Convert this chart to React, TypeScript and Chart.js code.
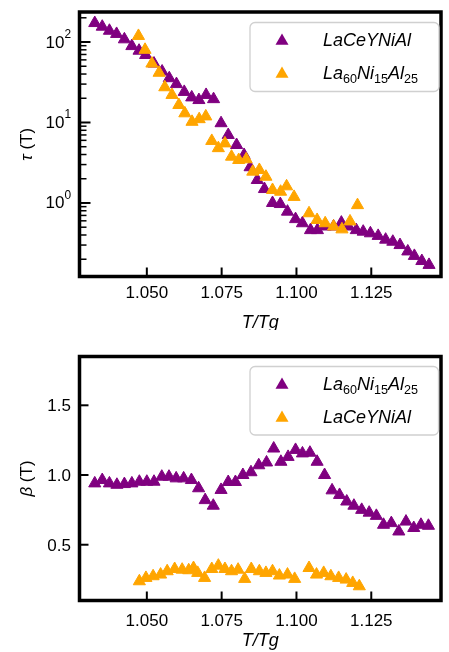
import React, { useEffect, useRef } from "react";
import { Chart, registerables } from "chart.js";

Chart.register(...registerables);

const FONT = "'Liberation Sans', Arial, Helvetica, sans-serif";
const PURPLE = "#800080";
const ORANGE = "#ffa500";

// ---------- top panel: tau(T) ----------
const tauPurpleX = [1.0326, 1.0351, 1.0375, 1.0399, 1.0425, 1.045, 1.0474, 1.0496, 1.0524, 1.0551, 1.0575, 1.0599, 1.0625, 1.065, 1.0674, 1.0698, 1.0723, 1.0748, 1.0772, 1.08, 1.0825, 1.0845, 1.0869, 1.0893, 1.092, 1.0946, 1.097, 1.0997, 1.102, 1.1047, 1.107, 1.1096, 1.1124, 1.115, 1.1174, 1.12, 1.1223, 1.1247, 1.1273, 1.1298, 1.1322, 1.1346, 1.1372, 1.1394, 1.1419, 1.1443];
const tauPurpleY = [172, 155, 138, 126, 108, 89, 78, 69, 54, 43, 35.5, 30, 24, 20.5, 19, 22, 19.5, 9.8, 7.0, 5.25, 3.95, 2.78, 1.93, 1.49, 1.0, 0.97, 0.78, 0.63, 0.56, 0.46, 0.46, 0.51, 0.51, 0.57, 0.51, 0.46, 0.44, 0.42, 0.39, 0.35, 0.33, 0.3, 0.25, 0.22, 0.19, 0.17];
const tauOrangeX = [1.0472, 1.0494, 1.0517, 1.0541, 1.056, 1.0584, 1.0607, 1.0627, 1.0651, 1.0675, 1.0697, 1.0717, 1.0739, 1.0761, 1.0783, 1.0807, 1.0832, 1.0854, 1.0876, 1.0898, 1.092, 1.0947, 1.0967, 1.0992, 1.1042, 1.1069, 1.1096, 1.1124, 1.1152, 1.1179, 1.1204];
const tauOrangeY = [119, 80, 54, 41.5, 27.4, 22, 16.5, 13, 10.2, 11, 11.9, 5.9, 4.8, 5.5, 3.76, 3.42, 3.49, 2.45, 2.57, 2.12, 1.45, 1.38, 1.61, 1.19, 0.745, 0.615, 0.56, 0.51, 0.47, 0.59, 0.94];

// ---------- bottom panel: beta(T) ----------
const betaPurpleX = [1.0326, 1.0351, 1.0375, 1.04, 1.0425, 1.045, 1.0475, 1.05, 1.0524, 1.055, 1.0574, 1.0598, 1.0623, 1.0649, 1.0673, 1.0695, 1.0722, 1.0748, 1.0772, 1.0796, 1.0821, 1.0848, 1.0874, 1.09, 1.0924, 1.0948, 1.0972, 1.0997, 1.102, 1.1045, 1.1069, 1.1094, 1.1119, 1.1144, 1.1168, 1.1192, 1.1218, 1.1243, 1.1267, 1.1291, 1.1317, 1.1342, 1.1366, 1.1392, 1.1416, 1.1441];
const betaPurpleY = [0.94, 0.964, 0.94, 0.93, 0.935, 0.94, 0.952, 0.952, 0.952, 0.988, 0.988, 0.976, 0.976, 0.964, 0.905, 0.82, 0.78, 0.893, 0.95, 0.95, 1.0, 1.02, 1.07, 1.09, 1.19, 1.095, 1.13, 1.18, 1.155, 1.16, 1.095, 1.0, 0.89, 0.857, 0.81, 0.78, 0.75, 0.73, 0.707, 0.643, 0.655, 0.595, 0.666, 0.62, 0.643, 0.636];
const betaOrangeX = [1.0475, 1.0497, 1.0521, 1.0546, 1.0568, 1.0593, 1.0618, 1.064, 1.0656, 1.067, 1.0693, 1.0717, 1.0739, 1.0761, 1.0783, 1.0805, 1.0827, 1.0849, 1.0876, 1.0898, 1.092, 1.0943, 1.097, 1.0994, 1.1042, 1.1067, 1.1091, 1.1115, 1.1141, 1.1166, 1.1188, 1.121];
const betaOrangeY = [0.238, 0.262, 0.274, 0.286, 0.31, 0.326, 0.321, 0.317, 0.333, 0.298, 0.262, 0.326, 0.35, 0.326, 0.31, 0.321, 0.255, 0.326, 0.31, 0.298, 0.31, 0.279, 0.286, 0.255, 0.333, 0.286, 0.298, 0.274, 0.262, 0.25, 0.226, 0.202];

// ---------- ticks, labels ----------
const xTickValues = [1.05, 1.075, 1.1, 1.125];
const xTickLabels = ["1.050", "1.075", "1.100", "1.125"];
const tauTickExponents = [0, 1, 2];
const betaTickValues = [0.5, 1.0, 1.5];
const betaTickLabels = ["0.5", "1.0", "1.5"];
const tauLegendLabels = ["LaCeYNiAl", "La_{60}Ni_{15}Al_{25}"];
const betaLegendLabels = ["La_{60}Ni_{15}Al_{25}", "LaCeYNiAl"];
const xTitleText = "T/Tg";

type Part = { t: string; italic?: boolean; sub?: boolean; sup?: boolean };

function parseMath(s: string): Part[] {
  const parts: Part[] = [];
  const re = /_\{([^}]*)\}|([^_]+)/g;
  let m: RegExpExecArray | null;
  while ((m = re.exec(s))) {
    if (m[1] !== undefined) parts.push({ t: m[1], sub: true });
    else parts.push({ t: m[2], italic: true });
  }
  return parts;
}

function partFont(p: Part, size: number) {
  const s = p.sub || p.sup ? size * 0.7 : size;
  return `${p.italic ? "italic " : ""}${s}px ${FONT}`;
}

function measureParts(ctx: CanvasRenderingContext2D, parts: Part[], size: number) {
  let w = 0;
  for (const p of parts) {
    ctx.font = partFont(p, size);
    w += ctx.measureText(p.t).width;
  }
  return w;
}

function drawParts(ctx: CanvasRenderingContext2D, parts: Part[], x: number, y: number, size: number, align: "left" | "center" | "right") {
  const w = measureParts(ctx, parts, size);
  let cx = align === "center" ? x - w / 2 : align === "right" ? x - w : x;
  ctx.textAlign = "left";
  ctx.textBaseline = "alphabetic";
  for (const p of parts) {
    ctx.font = partFont(p, size);
    const dy = p.sub ? size * 0.22 : p.sup ? -size * 0.58 : 0;
    ctx.fillText(p.t, cx, y + dy);
    cx += ctx.measureText(p.t).width;
  }
}

function tri(ctx: CanvasRenderingContext2D, x: number, y: number, r: number) {
  ctx.beginPath();
  ctx.moveTo(x, y - r);
  ctx.lineTo(x + 0.866 * r, y + 0.5 * r);
  ctx.lineTo(x - 0.866 * r, y + 0.5 * r);
  ctx.closePath();
  ctx.fill();
}

type FrameOpts = {
  id: string;
  log: boolean;
  yTitle: Part[];
  xLabelOffset: number;
  xTitleOffset: number;
  legendBox: { x: number; y: number; w: number; h: number };
  legend: { color: string; label: string }[];
};

function framePlugin(o: FrameOpts) {
  return {
    id: "frame" + o.id,
    afterDatasetsDraw(chart: any) {
      const ctx: CanvasRenderingContext2D = chart.ctx;
      const a = chart.chartArea;
      const xs = chart.scales.x;
      const ys = chart.scales.y;
      ctx.save();
      ctx.fillStyle = "#000";
      ctx.strokeStyle = "#000";
      ctx.lineCap = "butt";

      // x ticks + labels
      xTickValues.forEach((v, i) => {
        const px = xs.getPixelForValue(v);
        ctx.lineWidth = 2;
        ctx.beginPath();
        ctx.moveTo(px, a.bottom);
        ctx.lineTo(px, a.bottom - 9);
        ctx.stroke();
        ctx.font = `17px ${FONT}`;
        ctx.textAlign = "center";
        ctx.textBaseline = "alphabetic";
        ctx.fillText(xTickLabels[i], px, a.bottom + o.xLabelOffset);
      });

      // y ticks + labels
      if (o.log) {
        for (let e = -1; e <= 2; e++) {
          for (let m = 1; m <= 9; m++) {
            const v = m * Math.pow(10, e);
            if (v <= ys.min || v >= ys.max) continue;
            const py = ys.getPixelForValue(v);
            const major = m === 1;
            ctx.lineWidth = major ? 2 : 1.5;
            ctx.beginPath();
            ctx.moveTo(a.left, py);
            ctx.lineTo(a.left + (major ? 11 : 7), py);
            ctx.stroke();
          }
        }
        tauTickExponents.forEach((e) => {
          const py = ys.getPixelForValue(Math.pow(10, e));
          ctx.fillStyle = "#000";
          drawParts(ctx, [{ t: "10" }, { t: String(e), sup: true }], a.left - 8.5, py + 5.5, 17, "right");
        });
      } else {
        betaTickValues.forEach((v, i) => {
          const py = ys.getPixelForValue(v);
          ctx.lineWidth = 2;
          ctx.beginPath();
          ctx.moveTo(a.left, py);
          ctx.lineTo(a.left + 9, py);
          ctx.stroke();
          ctx.font = `17px ${FONT}`;
          ctx.textAlign = "right";
          ctx.textBaseline = "alphabetic";
          ctx.fillText(betaTickLabels[i], a.left - 8.5, py + 6);
        });
      }

      // spines
      ctx.lineWidth = 3.5;
      ctx.lineJoin = "miter";
      ctx.strokeRect(a.left, a.top, a.right - a.left, a.bottom - a.top);

      // axis titles
      drawParts(ctx, parseMath(xTitleText), (a.left + a.right) / 2, a.bottom + o.xTitleOffset, 18, "center");
      ctx.save();
      ctx.translate(26, (a.top + a.bottom) / 2);
      ctx.rotate(-Math.PI / 2);
      drawParts(ctx, o.yTitle, 0, 6, 17, "center");
      ctx.restore();

      // legend
      const b = o.legendBox;
      ctx.beginPath();
      (ctx as any).roundRect(b.x, b.y, b.w, b.h, 5);
      ctx.fillStyle = "rgba(255,255,255,0.85)";
      ctx.fill();
      ctx.lineWidth = 1.3;
      ctx.strokeStyle = "#d0d0d0";
      ctx.stroke();
      o.legend.forEach((en, i) => {
        const my = b.y + 17 + i * 33;
        ctx.fillStyle = en.color;
        tri(ctx, b.x + 32, my + 1.5, 7.5);
        ctx.fillStyle = "#000";
        drawParts(ctx, parseMath(en.label), b.x + 73, my + 6.5, 18, "left");
      });
      ctx.restore();
    },
  };
}

function pts(xs: number[], ys: number[]) {
  return xs.map((x, i) => ({ x, y: ys[i] }));
}

function ds(label: string, color: string, data: { x: number; y: number }[]) {
  return {
    label,
    data,
    backgroundColor: color,
    borderColor: color,
    pointStyle: "triangle",
    pointRadius: 7,
    pointBorderWidth: 1,
    pointHoverRadius: 7,
    showLine: false,
  };
}

function baseOptions(padTop: number, xHeight: number, yType: string, yMin: number, yMax: number) {
  return {
    animation: false,
    responsive: false,
    maintainAspectRatio: false,
    events: [],
    layout: { padding: { top: padTop, right: 3.5, left: 0, bottom: 0 } },
    plugins: { legend: { display: false }, tooltip: { enabled: false } },
    scales: {
      x: {
        type: "linear",
        min: 1.0275,
        max: 1.1483,
        ticks: { display: false },
        grid: { display: false },
        border: { display: false },
        afterFit(s: any) {
          s.height = xHeight;
        },
      },
      y: {
        type: yType,
        min: yMin,
        max: yMax,
        ticks: { display: false },
        grid: { display: false },
        border: { display: false },
        afterFit(s: any) {
          s.width = 79.5;
        },
      },
    },
  };
}

function Panel({ top, height, build }: { top: number; height: number; build: () => any }) {
  const ref = useRef<HTMLCanvasElement | null>(null);
  useEffect(() => {
    const chart = new Chart(ref.current as HTMLCanvasElement, build());
    return () => chart.destroy();
  }, []);
  return (
    <canvas
      ref={ref}
      width={449}
      height={height}
      style={{ position: "absolute", left: 0, top, width: 449, height, display: "block" }}
    />
  );
}

const buildTau = () => ({
  type: "scatter",
  data: {
    datasets: [
      ds(tauLegendLabels[1], ORANGE, pts(tauOrangeX, tauOrangeY)),
      ds(tauLegendLabels[0], PURPLE, pts(tauPurpleX, tauPurpleY)),
    ],
  },
  options: baseOptions(12, 53.5, "logarithmic", 0.122, 236),
  plugins: [
    framePlugin({
      id: "tau",
      log: true,
      yTitle: [{ t: "τ", italic: true }, { t: " (T)" }],
      xLabelOffset: 21.5,
      xTitleOffset: 51,
      legendBox: { x: 250, y: 22.5, w: 189, h: 69 },
      legend: [
        { color: PURPLE, label: tauLegendLabels[0] },
        { color: ORANGE, label: tauLegendLabels[1] },
      ],
    }),
  ],
});

const buildBeta = () => ({
  type: "scatter",
  data: {
    datasets: [
      ds(betaLegendLabels[0], PURPLE, pts(betaPurpleX, betaPurpleY)),
      ds(betaLegendLabels[1], ORANGE, pts(betaOrangeX, betaOrangeY)),
    ],
  },
  options: baseOptions(26.5, 51.5, "linear", 0.1, 1.85),
  plugins: [
    framePlugin({
      id: "beta",
      log: false,
      yTitle: [{ t: "β", italic: true }, { t: " (T)" }],
      xLabelOffset: 25,
      xTitleOffset: 45.5,
      legendBox: { x: 250, y: 366.5 - 330, w: 188.5, h: 68.5 },
      legend: [
        { color: PURPLE, label: betaLegendLabels[0] },
        { color: ORANGE, label: betaLegendLabels[1] },
      ],
    }),
  ],
});

export default function App() {
  return (
    <div style={{ position: "absolute", left: 0, top: 0, width: 449, height: 652, background: "#fff" }}>
      <Panel top={0} height={330} build={buildTau} />
      <Panel top={330} height={322} build={buildBeta} />
    </div>
  );
}
